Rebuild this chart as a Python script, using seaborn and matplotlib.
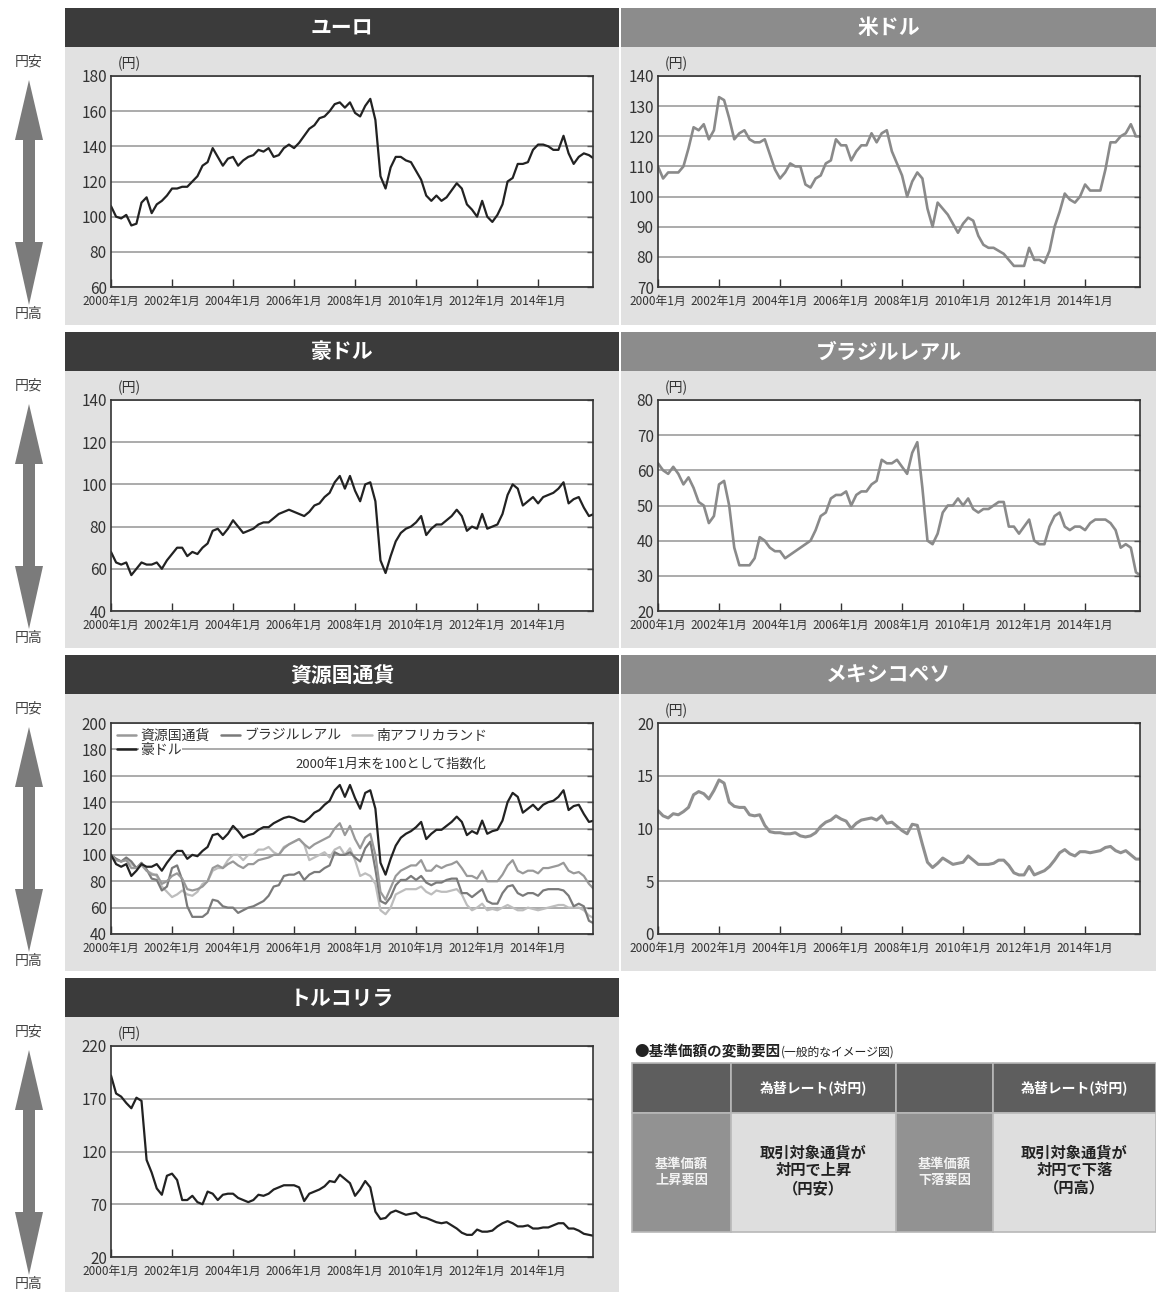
import numpy as np
import pandas as pd
import matplotlib
matplotlib.use("Agg")
import matplotlib.pyplot as plt
from matplotlib.patches import Rectangle, Polygon
from matplotlib.lines import Line2D
import seaborn as sns

W, H = 1156, 1292

# bimonthly readings: Jan, Mar, May, Jul, Sep, Nov for 2000..2015
EURO = [
    106, 100, 99, 101, 95, 96,
    108, 111, 102, 107, 109, 112,
    116, 116, 117, 117, 120, 123,
    129, 131, 139, 134, 129, 133,
    134, 129, 132, 134, 135, 138,
    137, 139, 134, 135, 139, 141,
    139, 142, 146, 150, 152, 156,
    157, 160, 164, 165, 162, 165,
    159, 157, 163, 167, 155, 123,
    116, 128, 134, 134, 132, 131,
    126, 121, 112, 109, 112, 109,
    111, 115, 119, 116, 107, 104,
    100, 109, 100, 97, 101, 107,
    120, 122, 130, 130, 131, 138,
    141, 141, 140, 138, 138, 146,
    136, 130, 134, 136, 135, 133,
]
USD = [
    110, 106, 108, 108, 108, 110,
    116, 123, 122, 124, 119, 122,
    133, 132, 126, 119, 121, 122,
    119, 118, 118, 119, 114, 109,
    106, 108, 111, 110, 110, 104,
    103, 106, 107, 111, 112, 119,
    117, 117, 112, 115, 117, 117,
    121, 118, 121, 122, 115, 111,
    107, 100, 105, 108, 106, 96,
    90, 98, 96, 94, 91, 88,
    91, 93, 92, 87, 84, 83,
    83, 82, 81, 79, 77, 77,
    77, 83, 79, 79, 78, 82,
    90, 95, 101, 99, 98, 100,
    104, 102, 102, 102, 109, 118,
    118, 120, 121, 124, 120, 120,
]
AUD = [
    68, 63, 62, 63, 57, 60,
    63, 62, 62, 63, 60, 64,
    67, 70, 70, 66, 68, 67,
    70, 72, 78, 79, 76, 79,
    83, 80, 77, 78, 79, 81,
    82, 82, 84, 86, 87, 88,
    87, 86, 85, 87, 90, 91,
    94, 96, 101, 104, 98, 104,
    97, 92, 100, 101, 92, 64,
    58, 66, 73, 77, 79, 80,
    82, 85, 76, 79, 81, 81,
    83, 85, 88, 85, 78, 80,
    79, 86, 79, 80, 81, 86,
    95, 100, 98, 90, 92, 94,
    91, 94, 95, 96, 98, 101,
    91, 93, 94, 89, 85, 86,
]
BRL = [
    62, 60, 59, 61, 59, 56,
    58, 55, 51, 50, 45, 47,
    56, 57, 50, 38, 33, 33,
    33, 35, 41, 40, 38, 37,
    37, 35, 36, 37, 38, 39,
    40, 43, 47, 48, 52, 53,
    53, 54, 50, 53, 54, 54,
    56, 57, 63, 62, 62, 63,
    61, 59, 65, 68, 55, 40,
    39, 42, 48, 50, 50, 52,
    50, 52, 49, 48, 49, 49,
    50, 51, 51, 44, 44, 42,
    44, 46, 40, 39, 39, 44,
    47, 48, 44, 43, 44, 44,
    43, 45, 46, 46, 46, 45,
    43, 38, 39, 38, 31, 30,
]
MXN = [
    11.7, 11.2, 11.0, 11.4, 11.3, 11.6,
    12.0, 13.2, 13.5, 13.3, 12.8, 13.6,
    14.6, 14.3, 12.5, 12.1, 12.0, 12.0,
    11.3, 11.2, 11.3, 10.3, 9.7, 9.6,
    9.6, 9.5, 9.5, 9.6, 9.3, 9.2,
    9.3, 9.6, 10.2, 10.6, 10.8, 11.2,
    10.9, 10.7, 10.0, 10.5, 10.8, 10.9,
    11.0, 10.8, 11.2, 10.5, 10.6, 10.2,
    9.8, 9.5, 10.4, 10.3, 8.5, 6.8,
    6.3, 6.7, 7.2, 6.9, 6.6, 6.7,
    6.8, 7.4, 7.0, 6.6, 6.6, 6.6,
    6.7, 7.0, 7.0, 6.5, 5.8, 5.6,
    5.6, 6.4, 5.6, 5.8, 6.0, 6.4,
    7.0, 7.7, 8.0, 7.6, 7.4, 7.8,
    7.8, 7.7, 7.8, 7.9, 8.2, 8.3,
    7.9, 7.7, 7.9, 7.5, 7.1, 7.1,
]
TRY = [
    192, 175, 172, 166, 161, 171,
    168, 112, 100, 85, 79, 97,
    99, 93, 74, 74, 78, 72,
    70, 82, 80, 74, 79, 80,
    80, 76, 74, 72, 74, 79,
    78, 80, 84, 86, 88, 88,
    88, 86, 73, 80, 82, 84,
    87, 92, 91, 98, 94, 90,
    78, 84, 92, 86, 63, 56,
    57, 62, 64, 62, 60, 61,
    62, 58, 57, 55, 53, 52,
    53, 50, 47, 43, 41, 41,
    46, 44, 44, 45, 49, 52,
    54, 52, 49, 49, 50, 47,
    47, 48, 48, 50, 52, 52,
    47, 47, 45, 42, 41, 40,
]
# index panel (2000/1 = 100)
IDX_RESOURCE = [
    100, 96, 95, 96, 90, 90,
    93, 88, 85, 85, 78, 80,
    84, 86, 82, 74, 73, 74,
    76, 80, 90, 92, 90, 93,
    95, 92, 90, 93, 93, 96,
    97, 98, 100, 100, 105, 108,
    110, 112, 108, 105, 108, 110,
    112, 114, 120, 124, 115, 122,
    112, 105, 113, 116, 100, 72,
    66, 75, 84, 88, 90, 92,
    92, 96, 88, 88, 92, 90,
    92, 93, 95, 90, 84, 84,
    82, 88, 80, 80, 80, 85,
    92, 96, 88, 86, 88, 88,
    86, 90, 90, 91, 92, 94,
    88, 86, 87, 84, 78, 74,
]
IDX_BRL = [
    100, 97, 95, 98, 95, 90,
    94, 89, 82, 81, 73, 76,
    90, 92, 81, 61, 53, 53,
    53, 56, 66, 65, 61, 60,
    60, 56, 58, 60, 61, 63,
    65, 69, 76, 77, 84, 85,
    85, 87, 81, 85, 87, 87,
    90, 92, 102, 100, 100, 102,
    98, 95, 105, 110, 89, 65,
    63, 68, 77, 81, 81, 84,
    81, 84, 79, 77, 79, 79,
    81, 82, 82, 71, 71, 68,
    71, 74, 65, 63, 63, 71,
    76, 77, 71, 69, 71, 71,
    69, 73, 74, 74, 74, 73,
    69, 61, 63, 61, 50, 48,
]
IDX_ZAR = [
    100, 97, 95, 96, 93, 90,
    92, 88, 86, 84, 76, 72,
    68, 70, 73, 70, 69, 72,
    78, 80, 88, 90, 90, 96,
    100, 100, 96, 100, 100, 104,
    104, 106, 102, 100, 106, 108,
    110, 112, 108, 96, 98, 100,
    102, 98, 104, 106, 100, 105,
    96, 84, 86, 84, 78, 58,
    55, 60, 70, 72, 74, 74,
    74, 76, 72, 70, 73, 72,
    72, 73, 74, 70, 62, 58,
    60, 63, 58, 59, 58, 60,
    62, 60, 58, 58, 60, 59,
    58, 59, 60, 61, 62, 62,
    60, 60, 60, 58, 54, 52,
]
IDX_AUD = [
    100, 93, 91, 93, 84, 88,
    93, 91, 91, 93, 88, 94,
    99, 103, 103, 97, 100, 99,
    103, 106, 115, 116, 112, 116,
    122, 118, 113, 115, 116, 119,
    121, 121, 124, 126, 128, 129,
    128, 126, 125, 128, 132, 134,
    138, 141, 149, 153, 144, 153,
    143, 135, 147, 149, 135, 94,
    85, 97, 107, 113, 116, 118,
    121, 125, 112, 116, 119, 119,
    122, 125, 129, 125, 115, 118,
    116, 126, 116, 118, 119, 126,
    140, 147, 144, 132, 135, 138,
    134, 138, 140, 141, 144, 149,
    134, 137, 138, 131, 125, 126,
]

MONTHS = np.arange(0, 192, 2)
YEARS = 2000 + MONTHS / 12.0
XTICKS = [2000, 2002, 2004, 2006, 2008, 2010, 2012, 2014]
XTICK_LABELS = [f"{y}年1月" for y in XTICKS]

DARK_HEAD = "#3b3b3b"
MID_HEAD = "#8c8c8c"
BODY = "#e1e1e1"
GRID = "#ababab"

sns.set_style("white")
plt.rcParams["font.family"] = ["Noto Sans CJK JP", "DejaVu Sans"]

fig = plt.figure(figsize=(W / 100, H / 100), dpi=100)
bg = fig.add_axes([0, 0, 1, 1])
bg.set_xlim(0, W)
bg.set_ylim(H, 0)
bg.axis("off")
bg.set_zorder(0)


def ax_at(x0, y0, x1, y1):
    ax = fig.add_axes([x0 / W, 1 - y1 / H, (x1 - x0) / W, (y1 - y0) / H])
    ax.set_zorder(2)
    return ax


def style_axes(ax, ylo, yhi, step):
    ax.set_xlim(2000, 2015.8)
    ax.set_ylim(ylo, yhi)
    ticks = np.arange(ylo, yhi + step / 2, step)
    ax.set_yticks(ticks)
    ax.set_yticklabels([f"{t:g}" for t in ticks])
    ax.set_xticks(XTICKS)
    ax.set_xticklabels(XTICK_LABELS)
    ax.set_xlabel("")
    ax.set_ylabel("")
    ax.yaxis.grid(True, color=GRID, linewidth=1.4)
    ax.xaxis.grid(False)
    ax.set_axisbelow(True)
    for s in ax.spines.values():
        s.set_color("#333333")
        s.set_linewidth(1.2)
    ax.tick_params(axis="x", direction="in", bottom=True, length=6, width=1,
                   color="#333333", labelsize=8.5, pad=6, labelcolor="#333333")
    ax.tick_params(axis="y", direction="in", left=False, right=True, length=4,
                   width=1, color="#555555", labelsize=11, pad=3, labelcolor="#333333")


# panel layout: column x ranges, row header tops
COLS = {0: (65, 619, 111, 593, DARK_HEAD), 1: (621, 1156, 658, 1140, MID_HEAD)}
ROW_TOPS = [8, 332, 655, 978]
ROW_BOTTOMS = [325, 648, 971, 1292]

panels = [
    ("ユーロ", 0, 0, EURO, 60, 180, 20, "#222222", 1.6),
    ("米ドル", 1, 0, USD, 70, 140, 10, "#8a8a8a", 1.9),
    ("豪ドル", 0, 1, AUD, 40, 140, 20, "#222222", 1.6),
    ("ブラジルレアル", 1, 1, BRL, 20, 80, 10, "#8a8a8a", 1.9),
    ("メキシコペソ", 1, 2, MXN, 0, 20, 5, "#8f8f8f", 2.2),
    ("トルコリラ", 0, 3, TRY, 20, 220, 50, "#222222", 1.6),
]

# headers and bodies
for c, r in [(0, 0), (1, 0), (0, 1), (1, 1), (0, 2), (1, 2), (0, 3)]:
    hx0, hx1, _, _, hcol = COLS[c]
    top = ROW_TOPS[r]
    bg.add_patch(Rectangle((hx0, top), hx1 - hx0, 39, color=hcol, lw=0))
    bg.add_patch(Rectangle((hx0, top + 39), hx1 - hx0, ROW_BOTTOMS[r] - top - 39,
                           color=BODY, lw=0))

bg.text(342, ROW_TOPS[2] + 20, "資源国通貨", color="white", fontsize=15,
        fontweight="bold", ha="center", va="center")

for title, c, r, vals, ylo, yhi, step, color, lw in panels:
    hx0, hx1, px0, px1, _ = COLS[c]
    top = ROW_TOPS[r]
    bg.text((hx0 + hx1) / 2, top + 20, title, color="white", fontsize=15,
            fontweight="bold", ha="center", va="center")
    ax = ax_at(px0, top + 68, px1, top + 279)
    df = pd.DataFrame({"年": YEARS, "値": vals})
    sns.lineplot(data=df, x="年", y="値", ax=ax, color=color, linewidth=lw)
    style_axes(ax, ylo, yhi, step)
    bg.text(px0 + 18, top + 56, "(円)", fontsize=10, color="#333333",
            ha="center", va="center")

# index panel
top = ROW_TOPS[2]
axi = ax_at(111, top + 68, 593, top + 279)
names = ["南アフリカランド", "ブラジルレアル", "資源国通貨", "豪ドル"]
colors = {"南アフリカランド": "#bdbdbd", "ブラジルレアル": "#7a7a7a",
          "資源国通貨": "#999999", "豪ドル": "#222222"}
long_df = pd.concat([
    pd.DataFrame({"年": YEARS, "指数": IDX_ZAR, "系列": "南アフリカランド"}),
    pd.DataFrame({"年": YEARS, "指数": IDX_BRL, "系列": "ブラジルレアル"}),
    pd.DataFrame({"年": YEARS, "指数": IDX_RESOURCE, "系列": "資源国通貨"}),
    pd.DataFrame({"年": YEARS, "指数": IDX_AUD, "系列": "豪ドル"}),
])
sns.lineplot(data=long_df, x="年", y="指数", hue="系列", hue_order=names,
             palette=colors, ax=axi, linewidth=1.6, legend=False)
style_axes(axi, 40, 200, 20)
order = ["資源国通貨", "豪ドル", "ブラジルレアル", "南アフリカランド"]
handles = [Line2D([], [], color=colors[n], lw=1.8) for n in order]
leg = axi.legend(handles, order, ncol=3, loc="upper left", bbox_to_anchor=(0.0, 1.0),
                 frameon=False, fontsize=10, handlelength=1.4, handletextpad=0.3,
                 columnspacing=0.8, labelspacing=0.0, borderpad=0.2,
                 borderaxespad=0.2)
for t in leg.get_texts():
    t.set_color("#333333")
    t.set_bbox(dict(facecolor="white", edgecolor="none", pad=0.5))
axi.text(0.58, 0.805, "2000年1月末を100として指数化", transform=axi.transAxes,
         fontsize=9.5, ha="center", va="center", color="#333333", zorder=6)

# left arrows
for top in ROW_TOPS:
    cx = 29
    pts = [
        (cx, top + 72), (cx + 14, top + 132), (cx + 6, top + 132),
        (cx + 6, top + 234), (cx + 14, top + 234), (cx, top + 297),
        (cx - 14, top + 234), (cx - 6, top + 234), (cx - 6, top + 132),
        (cx - 14, top + 132),
    ]
    bg.add_patch(Polygon(pts, closed=True, color="#7b7b7b", lw=0))
    bg.text(cx, top + 54, "円安", fontsize=10, ha="center", va="center", color="#444444")
    bg.text(cx, top + 306, "円高", fontsize=10, ha="center", va="center", color="#444444")

# table of factors
bg.text(634, 1051, "●基準価額の変動要因", fontsize=10.5, fontweight="bold",
        ha="left", va="center", color="#222222")
bg.text(781, 1052, "(一般的なイメージ図)", fontsize=8.5, ha="left", va="center",
        color="#222222")
col_x = [632, 731, 896, 993, 1156]
head_y0, head_y1, body_y1 = 1063, 1113, 1232
for i in range(4):
    x0, x1 = col_x[i], col_x[i + 1]
    bg.add_patch(Rectangle((x0, head_y0), x1 - x0, head_y1 - head_y0,
                           facecolor="#5e5e5e", edgecolor="#b8b8b8", lw=1.2))
    body_col = "#929292" if i in (0, 2) else "#dedede"
    bg.add_patch(Rectangle((x0, head_y1), x1 - x0, body_y1 - head_y1,
                           facecolor=body_col, edgecolor="#b8b8b8", lw=1.2))
for i in (1, 3):
    bg.text((col_x[i] + col_x[i + 1]) / 2, (head_y0 + head_y1) / 2,
            "為替レート(対円)", fontsize=10, fontweight="bold", color="white",
            ha="center", va="center")
labels = ["基準価額\n上昇要因", "取引対象通貨が\n対円で上昇\n（円安）",
          "基準価額\n下落要因", "取引対象通貨が\n対円で下落\n（円高）"]
for i, txt in enumerate(labels):
    cx = (col_x[i] + col_x[i + 1]) / 2
    if i in (0, 2):
        bg.text(cx, 1172, txt, fontsize=9.5, fontweight="bold", color="#f2f2f2",
                ha="center", va="center", linespacing=1.2)
    else:
        bg.text(cx, 1170, txt, fontsize=11, fontweight="bold", color="#222222",
                ha="center", va="center", linespacing=1.15)

fig.savefig("out.png", dpi=100, facecolor="white")
